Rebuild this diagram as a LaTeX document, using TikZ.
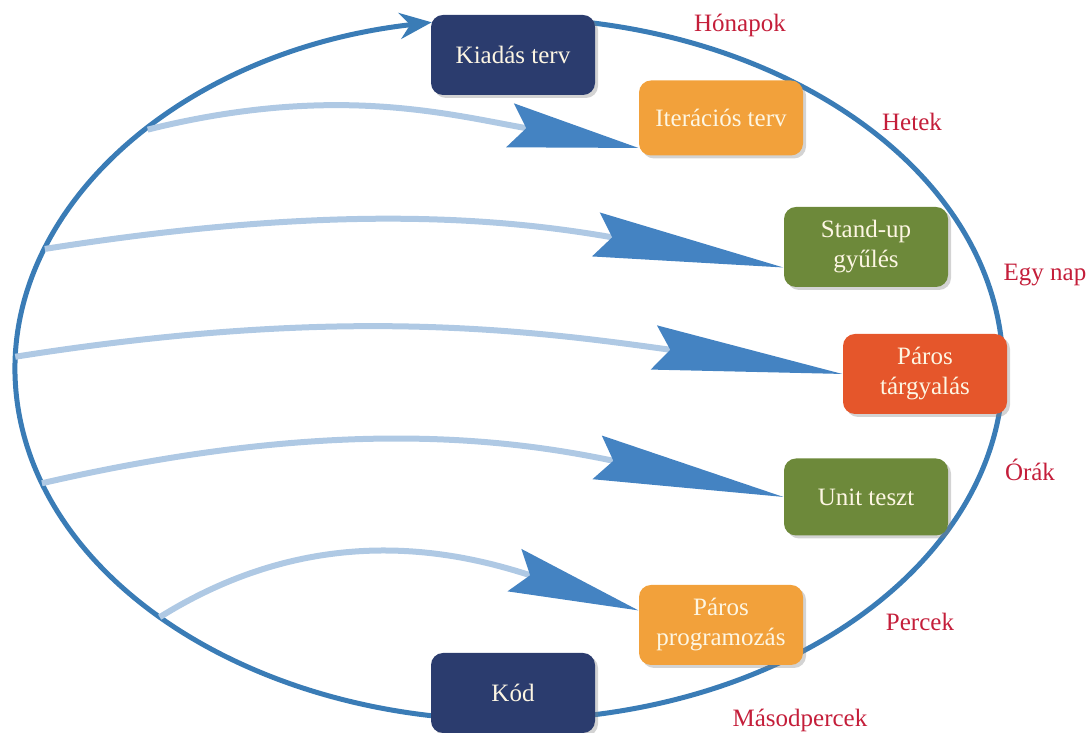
\documentclass[tikz,border=0pt]{standalone}
\usepackage{fontspec}
\setmainfont{Liberation Serif}
\usetikzlibrary{arrows.meta,positioning,shadows}
\definecolor{Navy}{HTML}{2B3C6E}
\definecolor{Amber}{HTML}{F2A13B}
\definecolor{Olive}{HTML}{6D893A}
\definecolor{Coral}{HTML}{E5562B}
\definecolor{Period}{HTML}{C41E3A}
\definecolor{Orbit}{HTML}{3A7CB6}
\definecolor{Swoosh}{HTML}{4483C2}
\definecolor{SwooshPale}{HTML}{AFC9E4}
\definecolor{Cream}{HTML}{FDF6E3}

\begin{document}
\begin{tikzpicture}[
    x=0.5pt,y=0.5pt,
    box/.style={rounded corners=6pt,align=center,text=Cream,
      minimum width=82pt,minimum height=40pt,
      font=\fontsize{12.5}{15}\selectfont,
      drop shadow={opacity=0.35,shadow xshift=1.5pt,shadow yshift=-1.5pt}},
    period/.style={text=Period,font=\fontsize{12.5}{15}\selectfont},
    orbit/.style={line width=2.5pt,color=Orbit},
    swoosh/.style={line width=3pt,color=SwooshPale,
      -{Stealth[length=#1,width=22pt,inset=8pt,color=Swoosh]}},
    swoosh/.default=95pt
  ]
  \useasboundingbox (0,0) rectangle (1088,733);
  \coordinate (c) at (509,364);
  \draw[orbit,-{Stealth[length=16pt,width=13pt]}] ([shift={(c)}]458:494 and 351)
    arc[start angle=458,end angle=99,x radius=494,y radius=351];

  \node[box,fill=Navy] (release) at (513,678) {Kiadás terv};
  \node[box,fill=Amber,minimum height=37.5pt] (iteration) at (721,615) {Iterációs terv};
  \node[box,fill=Olive] (standup) at (866,486) {Stand-up\\gyűlés};
  \node[box,fill=Coral] (pairtalk) at (925,359) {Páros\\tárgyalás};
  \node[box,fill=Olive,minimum height=38.5pt] (unittest) at (866,236) {Unit teszt};
  \node[box,fill=Amber] (pairprog) at (721,108) {Páros\\programozás};
  \node[box,fill=Navy] (code) at (513,40) {Kód};

  \node[period] (months) at (740,708) {Hónapok};
  \node[period] (weeks) at (912,611) {Hetek};
  \node[period] (day) at (1045,458) {Egy nap};
  \node[period] (hours) at (1030,263) {Órák};
  \node[period] (minutes) at (920,111) {Percek};
  \node[period] (seconds) at (800,13) {Másodpercek};

  \coordinate (t1) at ([shift={(c)}]137:494 and 351);
  \coordinate (t2) at ([shift={(c)}]160:494 and 351);
  \coordinate (t3) at ([shift={(c)}]178:494 and 351);
  \coordinate (t4) at ([shift={(c)}]199:494 and 351);
  \coordinate (t5) at ([shift={(c)}]225:494 and 351);

  \draw[swoosh=65pt] (t1) to[out=14,in=170] (iteration.200);
  \draw[swoosh] (t2) to[out=9,in=170] (standup.194);
  \draw[swoosh] (t3) to[out=9,in=172] (pairtalk.west);
  \draw[swoosh] (t4) to[out=13,in=168] (unittest.west);
  \draw[swoosh=65pt] (t5) to[out=32,in=162] (pairprog.170);
\end{tikzpicture}
\end{document}
